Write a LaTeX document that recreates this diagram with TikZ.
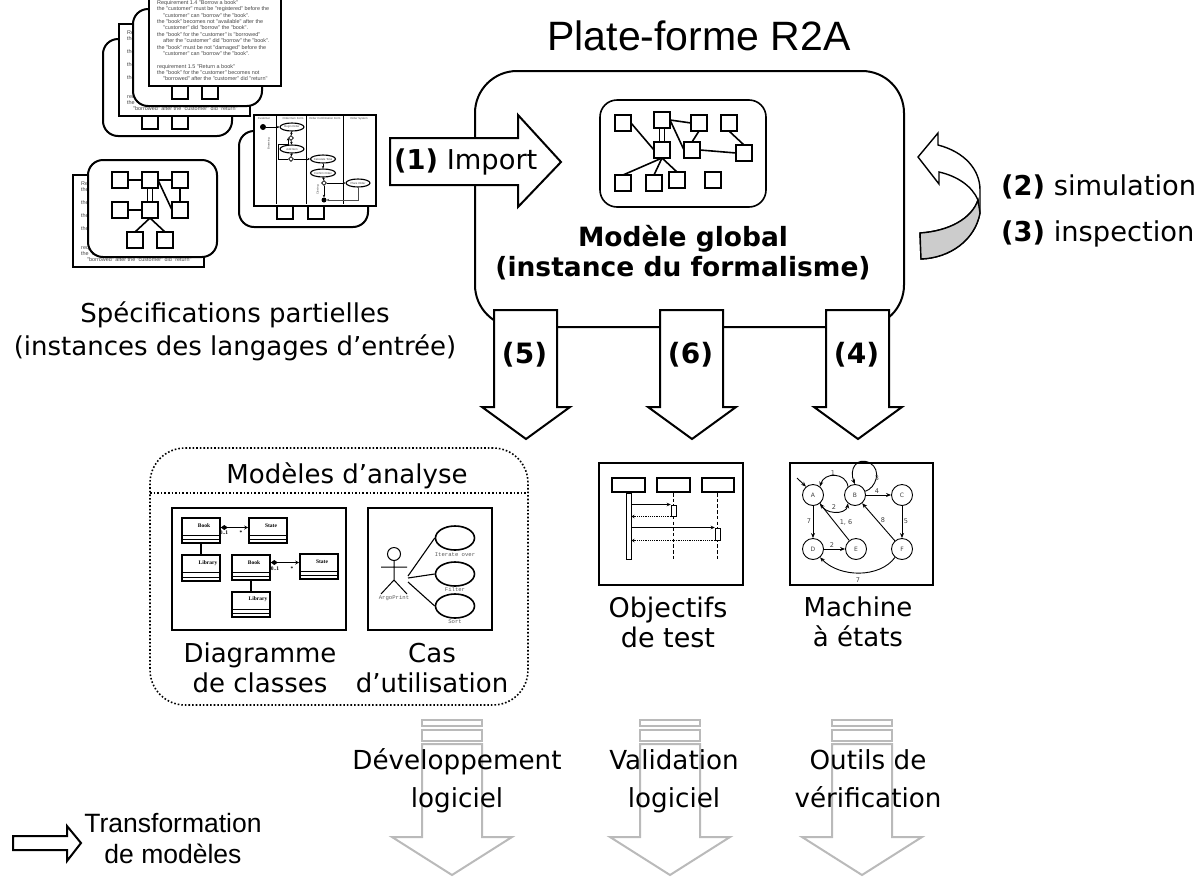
\documentclass[tikz,border=0pt]{standalone}
\usepackage{fontspec}
\setmainfont{DejaVu Sans}
\newfontfamily\arialf{Liberation Sans}
\newfontfamily\timesf{Liberation Serif}
\newfontfamily\courf{Liberation Mono}
\usetikzlibrary{arrows.meta,calc,shapes.geometric}
\tikzset{
  frameb/.style={draw,fill=white,line width=2pt,rounded corners=15pt},
  docb/.style={draw,fill=white,line width=2pt},
  sq/.style={draw,fill=white,line width=2pt,minimum size=16pt,inner sep=0pt,outer sep=0pt},
  link/.style={line width=1.6pt},
  doctxt/.style={font=\arialf\fontsize{5.45}{6}\selectfont,text=black!72,inner sep=0pt,anchor=base west},
  bigarrow/.style={draw,fill=white,line width=2pt,line join=miter},
  grayarrow/.style={draw=black!27,line width=2pt,line join=miter},
  lbl/.style={inner sep=0pt,align=center,font=\fontsize{26}{33}\selectfont},
  tiny/.style={font=\arialf\fontsize{2.8}{3}\selectfont,inner sep=0pt,text=black!75},
  uml/.style={draw,fill=white,line width=1.1pt,ellipse,inner sep=0pt},
  cls/.style={draw,fill=white,line width=1.6pt,minimum width=38pt,minimum height=25.5pt,inner sep=0pt},
  clst/.style={font=\timesf\bfseries\fontsize{5.5}{6}\selectfont,inner sep=0pt},
  mono/.style={font=\courf\fontsize{5.6}{6}\selectfont,text=black!65,inner sep=0pt},
  st/.style={draw,fill=white,circle,line width=.9pt,minimum size=21pt,inner sep=0pt,font=\fontsize{6}{7}\selectfont,text=black!75},
  stl/.style={font=\fontsize{6.5}{7}\selectfont,text=black!75,inner sep=0pt},
  sedge/.style={line width=.9pt,-{Stealth[length=5pt,width=4pt]}},
  seqarrow/.style={line width=1pt,-{Stealth[length=4pt,width=3.5pt]}},
  seqret/.style={line width=1.2pt,densely dotted,-{Stealth[length=3pt,width=3.5pt]}},
  life/.style={line width=1.6pt,dash pattern=on 3.5pt off 2.2pt},
  head/.style={draw,fill=white,line width=2pt,minimum height=14pt,inner sep=0pt},
  actl/.style={line width=.7pt,-{Stealth[length=2.5pt,width=2.5pt]}},
}
\newcommand{\docpage}[4]{% left, bottom, width, prefix
  \begin{scope}[shift={(#1,#2)},name prefix=#4-]
    \draw[docb] (0,0) rectangle (#3,-92);
    \node[doctxt] (l1) at (8,-81.5) {Requirement 1.4 "Borrow a book"};
    \node[doctxt] (l2) at (8,-76) {the "customer" must be "registered" before the};
    \node[doctxt] (l3) at (14,-69) {"customer" can "borrow" the "book".};
    \node[doctxt] (l4) at (8,-63) {the "book" becomes not "available" after the};
    \node[doctxt] (l5) at (14,-57) {"customer" did "borrow" the "book".};
    \node[doctxt] (l6) at (8,-50) {the "book" for the "customer" is "borrowed"};
    \node[doctxt] (l7) at (14,-44) {after the "customer" did "borrow" the "book".};
    \node[doctxt] (l8) at (8,-37) {the "book" must be not "damaged" before the};
    \node[doctxt] (l9) at (14,-31) {"customer" can "borrow" the "book".};
    \node[doctxt] (l10) at (8,-18) {requirement 1.5 "Return a book"};
    \node[doctxt] (l11) at (8,-12) {the "book" for the "customer" becomes not};
    \node[doctxt] (l12) at (14,-6) {"borrowed" after the "customer" did "return"};
  \end{scope}}
\newcommand{\classb}[5]{% name, cx, cy, title, title dx
  \node[cls] (#1) at (#2,#3) {};
  \draw[line width=1.1pt] ([yshift=9pt]#1.south west) -- ([yshift=9pt]#1.south east);
  \draw[line width=1.1pt] ([yshift=4.5pt]#1.south west) -- ([yshift=4.5pt]#1.south east);
  \node[clst] (#1t) at ($(#1.center)+(#5,-5)$) {#4};}
\begin{document}
\begin{tikzpicture}[x=1pt,y=-1pt,>=Stealth]
\useasboundingbox (0,0) rectangle (1204,876);
\clip (0,0) rectangle (1204,876);

% ---- upper stack
\draw[frameb] (103,39) rectangle (232,136);
\node[sq] (sa1) at (150,121) {};
\node[sq] (sa2) at (180,121) {};
\docpage{119}{116}{131}{da}
\draw[frameb] (133,9) rectangle (262,106);
\node[sq] (sb1) at (180,91) {};
\node[sq] (sb2) at (210,91) {};
\docpage{149}{86}{132}{db}

% ---- lower left stack
\docpage{73}{267}{131}{dd}
\draw[frameb] (88,160) rectangle (217,257);
\node[sq] (d1) at (120,180) {};
\node[sq] (d2) at (150,180) {};
\node[sq] (d3) at (180,180) {};
\node[sq] (d4) at (120,210) {};
\node[sq] (d5) at (150,210) {};
\node[sq] (d6) at (180,210) {};
\node[sq] (d7) at (135,240) {};
\node[sq] (d8) at (165,240) {};
\draw[link] (d1) -- (d2);
\draw[link] (d2) -- (d3);
\draw[link] ([xshift=-2.5pt]d2.south) -- ([xshift=-2.5pt]d5.north);
\draw[link] ([xshift=2.5pt]d2.south) -- ([xshift=2.5pt]d5.north);
\draw[link] (d2.east) -- (d6.west);
\draw[link] (d4) -- (d5);
\draw[link] (d3) -- (d6);
\draw[link] (d5.south) -- (d7.north);
\draw[link] (d5.south) -- (d8.north);

% ---- activity diagram
\draw[frameb] (239,131) rectangle (368,227);
\node[sq] (sc1) at (285,211) {};
\node[sq] (sc2) at (316,211) {};
\node[docb,minimum width=122pt,minimum height=91pt,inner sep=0pt,outer sep=0pt] (dc) at (315,160.5) {};
\foreach \x/\n in {276/1,306/2,343/3}
  \draw[line width=.8pt] (\x,116) coordinate (lt\n) -- (\x,204) coordinate (lb\n);
\node[tiny] (h1) at (264,118.7) {Customer};
\node[tiny] (h2) at (293,118.7) {Order Item Form};
\node[tiny] (h3) at (325,118.7) {Order Confirmation Form};
\node[tiny] (h4) at (359,118.7) {Order System};
\node[tiny,rotate=90] (r1) at (269,144) {Browsing};
\node[tiny,rotate=90] (r2) at (318,190) {Closing};
\node[circle,fill=black,minimum size=6pt,inner sep=0pt] (st) at (263,127) {};
\node[uml,minimum width=24pt,minimum height=8pt] (e1) at (292,127) {};
\node[tiny] (e1t) at (292,127) {Begin Order};
\node[diamond,aspect=1,draw,fill=white,line width=.8pt,minimum size=5pt,inner sep=0pt] (g1) at (291,138) {};
\node[uml,minimum width=24pt,minimum height=8pt] (e2) at (292,149) {};
\node[tiny] (e2t) at (292,149) {Add Item};
\node[diamond,aspect=1,draw,fill=white,line width=.8pt,minimum size=5pt,inner sep=0pt] (g2) at (291,159) {};
\node[uml,minimum width=25pt,minimum height=8pt] (e3) at (323,159) {};
\node[tiny] (e3t) at (323,159) {Calculate Total};
\node[uml,minimum width=25pt,minimum height=8pt] (e4) at (323,173) {};
\node[tiny] (e4t) at (323,173) {Confirm Order};
\node[diamond,aspect=1,draw,fill=white,line width=.8pt,minimum size=5pt,inner sep=0pt] (g3) at (324,183) {};
\node[uml,minimum width=24pt,minimum height=8pt] (e5) at (358,183) {};
\node[tiny] (e5t) at (358,183) {Place Order};
\node[circle,fill=black,minimum size=5pt,inner sep=0pt] (en) at (324,200) {};
\draw[actl] (st) -- (e1);
\draw[actl] (e1) -- (g1);
\draw[actl] (g1) -- (e2);
\draw[actl] (e2) -- (g2);
\draw[actl] (g2) -- (e3);
\draw[actl] (e3) -- (e4);
\draw[actl] (e4) -- (g3);
\draw[actl] (g3) -- (e5);
\draw[actl] (g3) -- (en);
\draw[actl,black!70] (e5.south) |- (en);
\draw[actl] (g2.west) -| (278,144) -| (g1.west);

% ---- main box
\node[draw,line width=2pt,rounded corners=42pt,minimum width=429pt,minimum height=256pt,inner sep=0pt,outer sep=0pt] (main) at (689.5,199) {};

% ---- inner model
\node[draw,line width=1.6pt,rounded corners=17pt,minimum width=166pt,minimum height=107pt,inner sep=0pt] (mf) at (683,153.5) {};
\node[sq] (ma) at (623,123) {};
\node[sq] (mb) at (662,120) {};
\node[sq] (mc) at (699,123) {};
\node[sq] (md) at (729,123) {};
\node[sq] (me) at (662,150) {};
\node[sq] (mf2) at (692,150) {};
\node[sq] (mg) at (744,153) {};
\node[sq] (mh) at (623,183) {};
\node[sq] (mi) at (654,183) {};
\node[sq] (mj) at (677,180) {};
\node[sq] (mk) at (713,180) {};
\draw[link] (ma.east) -- (me.west);
\draw[link] (mb.east) -- (mc.west);
\draw[link] ([xshift=-2.5pt]mb.south) -- ([xshift=-2.5pt]me.north);
\draw[link] ([xshift=2.5pt]mb.south) -- ([xshift=2.5pt]me.north);
\draw[link] (mb.east) -- (mf2.west);
\draw[link] (mc.south) -- (mf2.north);
\draw[link] (md.south) -- (mg.north);
\draw[link] (mf2.east) -- (mg.west);
\draw[link] (me.south) -- (mh.north);
\draw[link] (me.south) -- (mi.north);
\draw[link] (me.south) -- (mj.north);

\node[lbl,font=\bfseries\fontsize{26.5}{30}\selectfont] (mtxt) at (683,252.5) {Modèle global\\(instance du formalisme)};
\node[lbl,font=\fontsize{41}{44}\selectfont\arialf] (title) at (699,36) {Plate-forme R2A};

% ---- import arrow
\draw[bigarrow] (390,138) -- (518,138) -- (518,115) -- (561,162) -- (518,207) -- (518,185) -- (390,185) -- cycle;
\node[lbl,anchor=west,font=\fontsize{27.3}{30}\selectfont] (imp) at (394,162) {\textbf{(1)} Import};

% ---- output arrows
\foreach \x/\n in {526/5,692/6,858/4}{
  \draw[bigarrow] (\x-32,310) -- (\x+31,310) -- (\x+31,407) -- (\x+44,407) -- (\x,439) -- (\x-44,407) -- (\x-32,407) -- cycle;
  \node[lbl,font=\bfseries\fontsize{28}{30}\selectfont] (o\n) at (\x-1.5,355) {(\n)};
}

% ---- loop arrow
\draw[line width=1.4pt,fill=white] (920,233) .. controls (950,231) and (972,218) .. (978,200) .. controls (972,186) and (957,176) .. (939,172) -- (939,184) -- (918,157) -- (938,133) -- (938,145) .. controls (965,152) and (980,170) .. (980,190) -- (980,213) .. controls (975,240) and (950,258) .. (921,259) -- cycle;
\draw[line width=1.4pt,fill=black!20] (920,233) .. controls (950,231) and (972,218) .. (978,200) -- (980,213) .. controls (975,240) and (950,258) .. (921,259) -- cycle;
\node[lbl,anchor=west,font=\fontsize{27.3}{30}\selectfont] (sim) at (1001,187) {\textbf{(2)} simulation};
\node[lbl,anchor=west,font=\fontsize{27.3}{30}\selectfont] (ins) at (1001,234) {\textbf{(3)} inspection};

\node[lbl] (spec) at (235,331) {Spécifications partielles\\(instances des langages d’entrée)};

% ---- analysis models
\node[draw,line width=1.6pt,dotted,rounded corners=35pt,minimum width=378pt,minimum height=257pt,inner sep=0pt] (am) at (339,576.5) {};
\coordinate (amw) at (150,493);
\coordinate (ame) at (528,493);
\draw[line width=1.6pt,dotted] (amw) -- (ame);
\node[lbl] (amt) at (347,476) {Modèles d’analyse};

\node[draw,line width=2.4pt,minimum width=174pt,minimum height=122pt,inner sep=0pt] (cd) at (259,569) {};
\classb{b1}{201}{530.5}{Book}{3}
\classb{s1}{268}{530.5}{State}{3}
\classb{li1}{201}{568}{Library}{7}
\classb{b2}{251}{567.5}{Book}{3}
\classb{s2}{319}{566.5}{State}{3}
\classb{li2}{251}{604.5}{Library}{7}
\draw[line width=1.1pt] (b1) -- (li1);
\draw[line width=1.1pt] (b2) -- (li2);
\draw[line width=1.1pt,{Diamond[length=7pt,width=5pt]}-{Stealth[length=4pt,width=4pt]}] (b1.east |- s1.center) ++(0,-3) coordinate (aa) -- (aa -| s1.west);
\draw[line width=1.1pt,{Diamond[length=7pt,width=5pt]}-{Stealth[length=4pt,width=4pt]}] (b2.east |- s2.center) ++(0,-4) coordinate (ab) -- (ab -| s2.west);
\node[clst] (m1) at (224,533) {0..1};
\node[clst] (m2) at (241,533) {*};
\node[clst] (m3) at (275,569) {0..1};
\node[clst] (m4) at (292,569) {*};

\node[draw,line width=2.4pt,minimum width=124pt,minimum height=122pt,inner sep=0pt] (uc) at (430,569) {};
\node[draw,circle,line width=1pt,minimum size=13pt,inner sep=0pt] (ahead) at (394,554) {};
\coordinate (ahip) at (394,580);
\coordinate (al) at (381,567);
\coordinate (ar) at (407,567);
\coordinate (ll) at (381,594);
\coordinate (lr) at (407,594);
\draw[line width=1pt] (ahead) -- (ahip) -- (ll) (ahip) -- (lr) (al) -- (ar);
\node[mono] (aname) at (394,598) {ArgoPrint};
\node[draw,ellipse,line width=1.6pt,minimum width=39pt,minimum height=24pt,inner sep=0pt] (u1) at (455,538) {};
\node[draw,ellipse,line width=1.6pt,minimum width=39pt,minimum height=24pt,inner sep=0pt] (u2) at (455,574) {};
\node[draw,ellipse,line width=1.6pt,minimum width=39pt,minimum height=24pt,inner sep=0pt] (u3) at (455,606) {};
\node[mono] (u1t) at (455,555) {Iterate over};
\node[mono] (u2t) at (455,589) {Filter};
\node[mono] (u3t) at (455,622) {Sort};
\coordinate (ac1) at (408,576);
\coordinate (ac2) at (408,578);
\coordinate (ac3) at (408,582);
\draw[line width=1.1pt] (ac1) -- (u1.west);
\draw[line width=1.1pt] (ac2) -- (u2.west);
\draw[line width=1.1pt] (ac3) -- (u3.west);
\node[lbl,font=\fontsize{26}{30}\selectfont] (cdt) at (260,668) {Diagramme\\de classes};
\node[lbl,font=\fontsize{26}{30}\selectfont] (uct) at (432,668) {Cas\\d’utilisation};

% ---- test objectives
\node[draw,line width=2.4pt,minimum width=144pt,minimum height=122pt,inner sep=0pt] (ob) at (671,524) {};
\node[head,minimum width=33pt] (h1a) at (628.5,485) {};
\node[head,minimum width=33pt] (h2a) at (673.5,485) {};
\node[head,minimum width=32pt] (h3a) at (717.5,485) {};
\node[draw,fill=white,line width=1pt,minimum width=5pt,minimum height=66pt,inner sep=0pt,anchor=north] (b1a) at (h1a.south) {};
\draw[life] (h2a.south) -- ++(0,67) coordinate (e2a);
\draw[life] (h3a.south) -- ++(0,67) coordinate (e3a);
\node[draw,fill=white,line width=1pt,minimum width=5.5pt,minimum height=11pt,inner sep=0pt] (a1) at (674,510.5) {};
\node[draw,fill=white,line width=1pt,minimum width=5.5pt,minimum height=12pt,inner sep=0pt] (a2) at (718,534) {};
\draw[seqarrow] (b1a.east |- a1.north) -- (a1.north west);
\draw[seqret] (a1.south west) -- (b1a.east |- a1.south);
\draw[seqarrow] (b1a.east |- a2.north) -- (a2.north west);
\draw[seqret] (a2.south west) -- (b1a.east |- a2.south);
\node[lbl,font=\fontsize{27}{30}\selectfont] (obt) at (668,622) {Objectifs\\de test};

% ---- state machine
\node[draw,line width=2.4pt,minimum width=143pt,minimum height=122pt,inner sep=0pt] (sm) at (861.5,524) {};
\node[st] (A) at (813,495) {A};
\node[st] (B) at (855,495) {B};
\node[st] (C) at (902,495) {C};
\node[st] (D) at (813,549) {D};
\node[st] (E) at (856,549) {E};
\node[st] (F) at (902,549) {F};
\coordinate (init) at (797,478);
\draw[sedge] (init) -- (A.130);
\draw[sedge] (B.130) .. controls (846,472) and (824,472) .. (A.50);
\draw[sedge] (A.310) .. controls (824,515) and (846,515) .. (B.230);
\draw[sedge] (B.20) .. controls (876,488) and (882,470) .. (870,463) .. controls (856,456) and (849,470) .. (B.90);
\draw[sedge] (B) -- (C);
\draw[sedge] (C) -- (F);
\draw[sedge] (A) -- (D);
\draw[sedge] (D) -- (E);
\draw[sedge] (E) -- (A);
\draw[sedge] (F) -- (B);
\draw[sedge] (F.230) .. controls (880,578) and (840,578) .. (D.310);
\node[stl] (t1) at (833,473) {1};
\node[stl] (t2) at (834,507) {2};
\node[stl] (t3) at (877,478) {3};
\node[stl] (t4) at (877,491) {4};
\node[stl] (t5) at (906,521) {5};
\node[stl] (t7a) at (809,521) {7};
\node[stl] (t2b) at (832,545) {2};
\node[stl] (t16) at (846,522) {1, 6};
\node[stl] (t8) at (883,520) {8};
\node[stl] (t7b) at (858,580) {7};
\node[lbl,font=\fontsize{26}{30}\selectfont] (smt) at (858,622) {Machine\\à états};

% ---- gray arrows
\foreach \x/\w/\n in {452/30/d,670/30/v,862/30/o}{
  \draw[grayarrow] (\x-\w,720) rectangle (\x+\w,726);
  \draw[grayarrow] (\x-\w,730) rectangle (\x+\w,741);
  \draw[grayarrow] (\x-\w,744) -- (\x+\w,744) -- (\x+\w,837) -- (\x+60,837) -- (\x,875) -- (\x-60,837) -- (\x-\w,837) -- cycle;
}
\node[lbl,font=\fontsize{26.2}{38}\selectfont] (dvt) at (457,781) {\strut Développement\\\strut logiciel};
\node[lbl,font=\fontsize{26.2}{38}\selectfont] (vat) at (674,781) {\strut Validation\\\strut logiciel};
\node[lbl,font=\fontsize{26.2}{38}\selectfont] (out) at (868,781) {\strut Outils de\\\strut vérification};

% ---- legend
\draw[line width=2pt,fill=white] (13,836) -- (67,836) -- (67,826) -- (81,843) -- (67,861) -- (67,850) -- (13,850) -- cycle;
\node[lbl,font=\arialf\fontsize{26.5}{31}\selectfont] (leg) at (173,839) {Transformation\\de modèles};
\end{tikzpicture}
\end{document}
